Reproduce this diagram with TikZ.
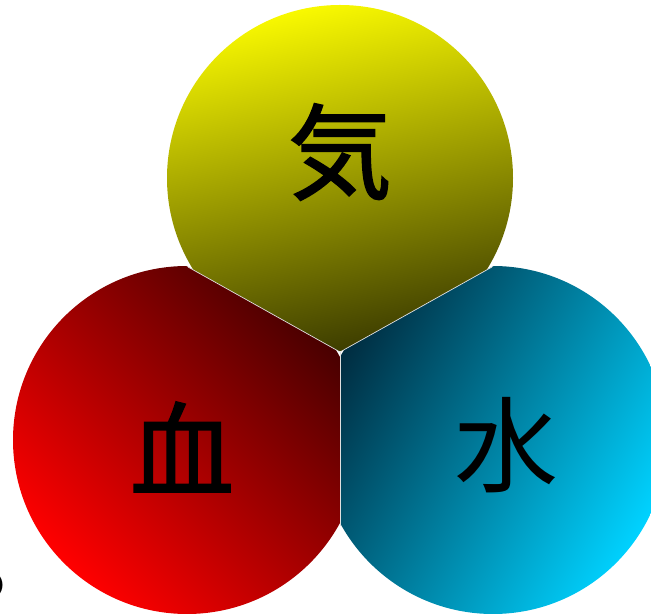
\documentclass[tikz,border=0pt]{standalone}
\usepackage{fontspec}
\newfontfamily\cjk{Noto Sans CJK JP}
\newfontfamily\cjkb[FakeBold=1.6]{Noto Sans CJK JP}
\usetikzlibrary{calc}
\definecolor{ylight}{RGB}{248,248,0}
\definecolor{ydark}{RGB}{60,60,0}
\definecolor{rlight}{RGB}{255,0,0}
\definecolor{rdark}{RGB}{70,0,0}
\definecolor{clight}{RGB}{0,210,255}
\definecolor{cdark}{RGB}{0,45,65}
\tikzset{
  seam/.style={draw=white!75!gray, line width=0.7pt},
  glyph/.style={inner sep=0pt, font=\cjk\fontsize{104}{104}\selectfont},
  glyphb/.style={inner sep=0pt, font=\cjkb\fontsize{104}{104}\selectfont},
}
\begin{document}
\begin{tikzpicture}[x=1pt,y=1pt]
\useasboundingbox (0,0) rectangle (651,616);
\coordinate (yc) at (340,438);
\coordinate (rc) at (187,176);
\coordinate (cc) at (493,176);
\coordinate (m) at (340,264);
\coordinate (ry) at (188,349);
\coordinate (cy) at (492,349);
\coordinate (rb) at (340,90);
% yellow
\begin{scope}
\clip (m) -- (-116,519) -- (-116,800) -- (796,800) -- (796,519) -- cycle;
\shade[top color=ylight, bottom color=ydark, shading angle=12] (yc) circle (173);
\end{scope}
% red
\begin{scope}
\clip (m) -- (-116,519) -- (-116,-200) -- (340,-200) -- cycle;
\shade[top color=rdark, bottom color=rlight, shading angle=-45] (rc) circle (174);
\end{scope}
% cyan
\begin{scope}
\clip (m) -- (796,519) -- (796,-200) -- (340,-200) -- cycle;
\shade[top color=cdark, bottom color=clight, shading angle=60] (cc) circle (174);
\end{scope}
\draw[seam] (ry) -- (m) -- (cy);
\draw[seam] (m) -- (rb);
\node[glyphb] (qi) at (340,464) {気};
\node[glyphb] (xue) at (182,169) {血};
\node[glyph] (shui) at (506,171) {水};
\node[inner sep=0pt, font=\cjk\bfseries\fontsize{46}{46}\selectfont] (frag) at (-10,31) {o};
\end{tikzpicture}
\end{document}
